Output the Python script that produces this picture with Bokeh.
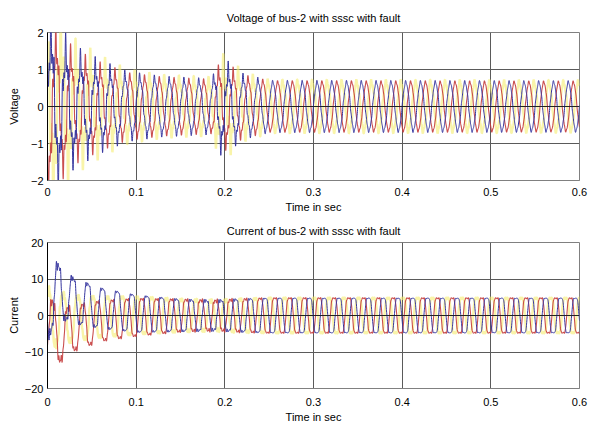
import numpy as np
from bokeh.plotting import figure
from bokeh.layouts import column
from bokeh.models import Range1d, FixedTicker, Span
from bokeh.embed import file_html
from bokeh.resources import INLINE

# ---------------- data ----------------
FREQ = 60.0                      # supply frequency (Hz)
x_ticks = [0, 0.1, 0.2, 0.3, 0.4, 0.5, 0.6]
v_ticks = [-2, -1, 0, 1, 2]
i_ticks = [-20, -10, 0, 10, 20]

# voltage envelope key points
v_key_t = [0.0, 0.01, 0.03, 0.06, 0.09, 0.13, 0.185, 0.195, 0.205, 0.22, 0.25, 0.6]
v_amp   = [1.9, 1.6, 1.2, 0.95, 0.8, 0.72, 0.66, 0.95, 0.9, 0.75, 0.66, 0.66]
v_dist  = [0.8, 0.7, 0.45, 0.3, 0.15, 0.1, 0.1, 0.35, 0.3, 0.15, 0.05, 0.04]
v_phase = [0.0, -2.094, 2.094]          # blue, red, yellow
v_dist_gain = [1.0, 0.8, 1.4]

# current envelope key points
i_key_t = [0.0, 0.01, 0.03, 0.06, 0.10, 0.15, 0.19, 0.21, 0.25, 0.6]
i_amp   = [8.0, 8.0, 6.8, 6.2, 5.8, 5.0, 4.6, 5.0, 5.5, 5.5]
i_dist  = [2.0, 1.8, 1.0, 0.6, 0.4, 0.5, 0.8, 0.6, 0.25, 0.2]
i_dc_blue = [0.0, 7.0, 4.0, 2.0, 0.5, 0.0, 0.0, 0.0, 0.0, 0.0]
i_dc_red  = [0.0, -6.0, -3.5, -1.5, -0.5, 0.0, 0.0, 0.0, 0.0, 0.0]
i_dc_yel  = [0.0, -1.0, -0.8, -0.4, 0.0, 0.0, 0.0, 0.0, 0.0, 0.0]
i_phase = [-2.95, -2.95 + 2.094, -2.95 - 2.094]

colors = ["#34349e", "#c43c3c", "#f5ec70"]
widths = [1.0, 1.1, 2.4]
alphas = [1.0, 0.9, 0.6]

# ---------------- build waveforms ----------------
t = np.linspace(0, 0.6, 4001)
w = 2 * np.pi * FREQ

def env(keys, vals):
    return np.interp(t, keys, vals)

A_v = env(v_key_t, v_amp)
D_v = env(v_key_t, v_dist)
volt = []
for k in range(3):
    ph = v_phase[k]
    base = A_v * np.sin(w * t + ph)
    dist = D_v * v_dist_gain[k] * (np.sin(5 * w * t + 2 * ph + 0.7) * 0.6
                                   + np.sin(9 * w * t + 3 * ph + 1.3) * 0.5)
    volt.append(base + dist)

A_i = env(i_key_t, i_amp)
D_i = env(i_key_t, i_dist)
dcs = [env(i_key_t, i_dc_blue), env(i_key_t, i_dc_red), env(i_key_t, i_dc_yel)]
curr = []
for k in range(3):
    ph = i_phase[k]
    base = A_i * (np.sin(w * t + ph) + 0.15 * np.sin(3 * (w * t + ph)))
    dist = D_i * (np.sin(7 * w * t + 2 * ph + 0.4) * 0.5 + np.sin(11 * w * t + ph) * 0.3)
    curr.append(base + dist + dcs[k])

FONT = "Liberation Sans"

def make_fig(height, yr, yt, ylab, title, series, ylab_offset, xlab_standoff,
             title_standoff, bottom):
    p = figure(width=590, height=height, output_backend="svg", toolbar_location=None,
               x_range=Range1d(0, 0.6), y_range=Range1d(*yr),
               min_border_left=47, min_border_right=11, min_border_top=0,
               min_border_bottom=bottom, title=title)
    p.title.align = "center"
    p.title.standoff = title_standoff
    p.title.text_font = FONT
    p.title.text_font_size = "11px"
    p.title.text_font_style = "normal"
    p.title.text_color = "black"
    p.background_fill_color = "white"
    p.outline_line_color = "#808080"
    p.xaxis.ticker = FixedTicker(ticks=x_ticks)
    p.yaxis.ticker = FixedTicker(ticks=yt)
    p.xaxis.major_label_overrides = {0: "0"}
    for ax in (p.xaxis[0], p.yaxis[0]):
        ax.major_tick_in = 0
        ax.major_tick_out = 0
        ax.minor_tick_in = 0
        ax.minor_tick_out = 0
        ax.major_label_text_font = FONT
        ax.major_label_text_font_size = "11px"
        ax.major_label_text_color = "black"
        ax.axis_label_text_font = FONT
        ax.axis_label_text_font_size = "11px"
        ax.axis_label_text_font_style = "normal"
        ax.axis_label_text_color = "black"
    p.xaxis.axis_label = "Time in sec"
    p.xaxis.major_label_standoff = xlab_standoff
    p.xaxis.axis_label_standoff = 2
    p.xaxis.axis_line_color = "#808080"
    p.yaxis.axis_label = ylab
    p.yaxis.major_label_standoff = 4
    p.yaxis.axis_label_standoff = ylab_offset
    p.yaxis.axis_line_color = "black"
    p.xgrid.grid_line_color = "#5a5a5a"
    p.ygrid.grid_line_color = "#5a5a5a"
    for k in [2, 1, 0]:
        p.line(t, series[k], line_color=colors[k], line_width=widths[k], line_alpha=alphas[k])
    p.add_layout(Span(location=0, dimension="width", line_color="#222222", line_width=1))
    return p

p1 = make_fig(216, (-2, 2), v_ticks, "Voltage",
              "Voltage of bus-2 with sssc with fault", volt, 8, 7, 18, 36)
p2 = make_fig(209, (-20, 20), i_ticks, "Current",
              "Current of bus-2 with sssc with fault", curr, 2, 9, 12, 37)

layout = column(p1, p2, spacing=0)
open("out.html", "w").write(file_html(layout, INLINE))
